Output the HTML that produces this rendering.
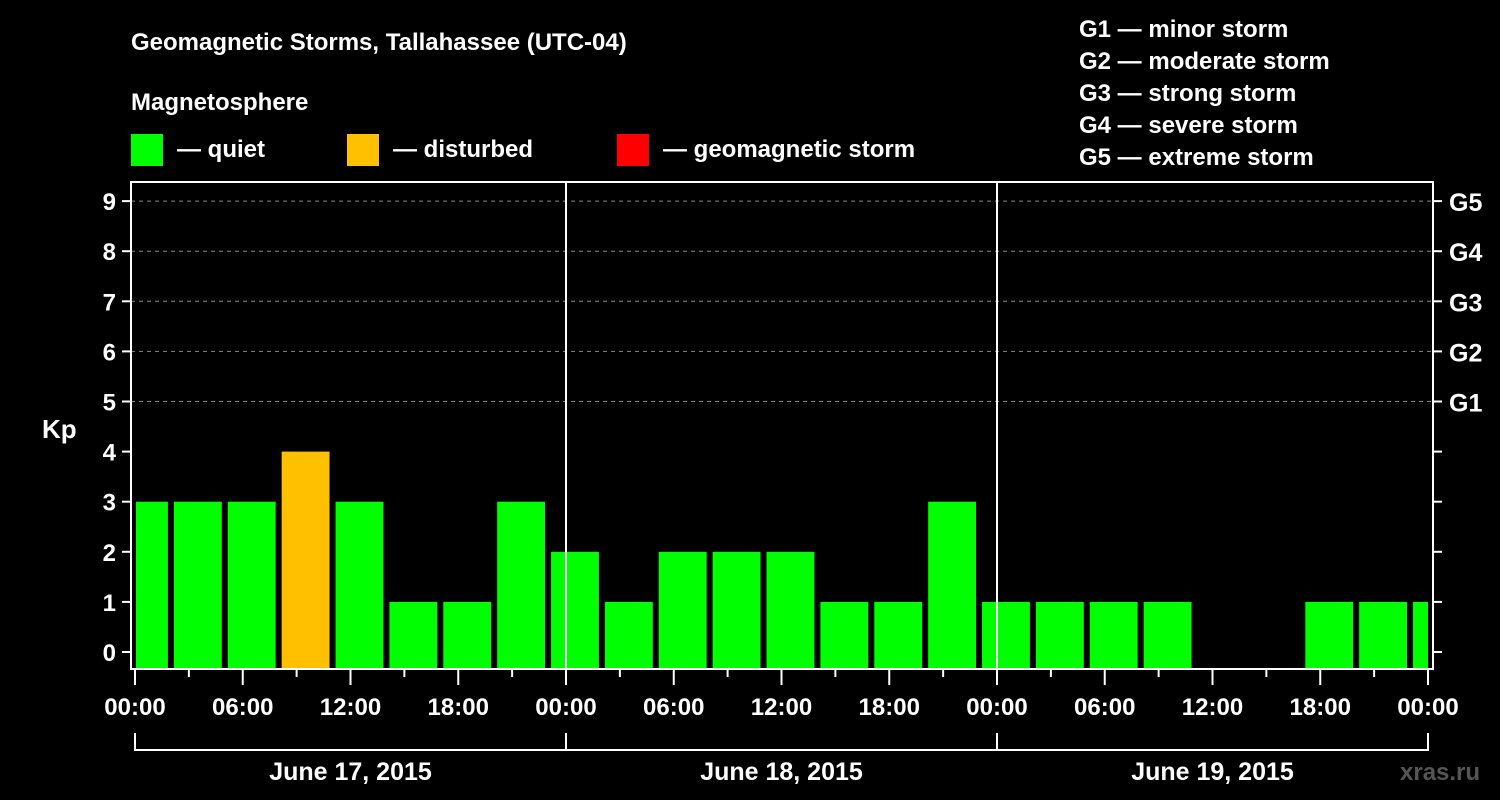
<!DOCTYPE html>
<html><head><meta charset="utf-8"><style>
html,body{margin:0;padding:0;background:#000;width:1500px;height:800px;overflow:hidden}
svg text{font-family:"Liberation Sans",sans-serif;font-weight:bold;fill:#fff}
</style></head><body>
<svg id="chart" width="1500" height="800" xmlns="http://www.w3.org/2000/svg">
<text x="131" y="50" font-size="24">Geomagnetic Storms, Tallahassee (UTC-04)</text>
<text x="131" y="110" font-size="24">Magnetosphere</text>
<g><rect x="131" y="134" width="32" height="32" fill="#00ff00"/><text x="177" y="157" font-size="24">— quiet</text></g>
<g><rect x="347" y="134" width="32" height="32" fill="#ffc000"/><text x="393" y="157" font-size="24">— disturbed</text></g>
<g><rect x="617" y="134" width="32" height="32" fill="#ff0000"/><text x="663" y="157" font-size="24">— geomagnetic storm</text></g>
<g font-size="24">
<text x="1079" y="37">G1 — minor storm</text>
<text x="1079" y="69">G2 — moderate storm</text>
<text x="1079" y="101">G3 — strong storm</text>
<text x="1079" y="133">G4 — severe storm</text>
<text x="1079" y="165">G5 — extreme storm</text>
</g>
<text x="42" y="438" font-size="26">Kp</text>
<text x="1400" y="780" font-size="24" fill="#555" style="fill:#555" font-weight="normal">xras.ru</text>
<g id="grid"></g><g id="bars"></g><g id="axes"></g>
</svg>
<script>
const values=[3,3,3,4,3,1,1,3,2,1,2,2,2,1,1,3,1,1,1,1,0,0,1,1,1];
const yTicks=[0,1,2,3,4,5,6,7,8,9];
const gLabels=["","","","","","G1","G2","G3","G4","G5"];
const xTickLabels=["00:00","06:00","12:00","18:00","00:00","06:00","12:00","18:00","00:00","06:00","12:00","18:00","00:00"];
const dayLabels=["June 17, 2015","June 18, 2015","June 19, 2015"];
const NS="http://www.w3.org/2000/svg";
const X0=135,X1=1428,HOURS=72;
const x=h=>X0+(X1-X0)*h/HOURS;
const y=v=>652-v*50.1;
function mk(tag,attrs,parent,txt){const e=document.createElementNS(NS,tag);for(const k in attrs)e.setAttribute(k,attrs[k]);if(txt!==undefined)e.textContent=txt;document.getElementById(parent).appendChild(e);return e;}
// grid
yTicks.forEach(v=>{if(v>=5){const l=mk('line',{x1:131,x2:1433,y1:y(v),y2:y(v),stroke:'#888','stroke-dasharray':'4,4','stroke-width':1},'grid');

}});
// bars
values.forEach((v,i)=>{if(v<=0)return;const s=-1+3*i,e=s+3;let a=x(s)+3,b=x(e)-3;a=Math.max(a,x(0)+1);b=Math.min(b,x(HOURS));
const c=v>=5?'#ff0000':(v>=4?'#ffc000':'#00ff00');
const r=mk('rect',{x:a,y:y(v),width:b-a,height:668-y(v),fill:c},'bars');

});
// frame
const f=mk('rect',{x:131,y:182,width:1302,height:487,fill:'none',stroke:'#fff','stroke-width':2},'axes');


[24,48].forEach(h=>{const l=mk('line',{x1:x(h),x2:x(h),y1:182,y2:669,stroke:'#fff','stroke-width':2},'axes');

});
yTicks.forEach((v,i)=>{
mk('line',{x1:122,x2:131,y1:y(v),y2:y(v),stroke:'#fff','stroke-width':2},'axes');
mk('line',{x1:1433,x2:1442,y1:y(v),y2:y(v),stroke:'#fff','stroke-width':2},'axes');
const t=mk('text',{x:116,y:y(v)+9,'font-size':24,'text-anchor':'end'},'axes',v);


if(gLabels[i]){const g=mk('text',{x:1449,y:y(v)+10,'font-size':25},'axes',gLabels[i]);

}
});
for(let h=0;h<=HOURS;h+=3){const major=h%6===0;mk('line',{x1:x(h),x2:x(h),y1:669,y2:major?685:677,stroke:'#fff','stroke-width':2},'axes');}
xTickLabels.forEach((s,i)=>{const t=mk('text',{x:x(i*6),y:715,'font-size':24,'text-anchor':'middle'},'axes',s);

});
mk('line',{x1:x(0),x2:x(72),y1:750,y2:750,stroke:'#fff','stroke-width':2},'axes');
[0,24,48,72].forEach(h=>mk('line',{x1:x(h),x2:x(h),y1:733,y2:751,stroke:'#fff','stroke-width':2},'axes'));
dayLabels.forEach((s,i)=>{const t=mk('text',{x:x(i*24+12),y:780,'font-size':25,'text-anchor':'middle'},'axes',s);

});
</script>
</body></html>
